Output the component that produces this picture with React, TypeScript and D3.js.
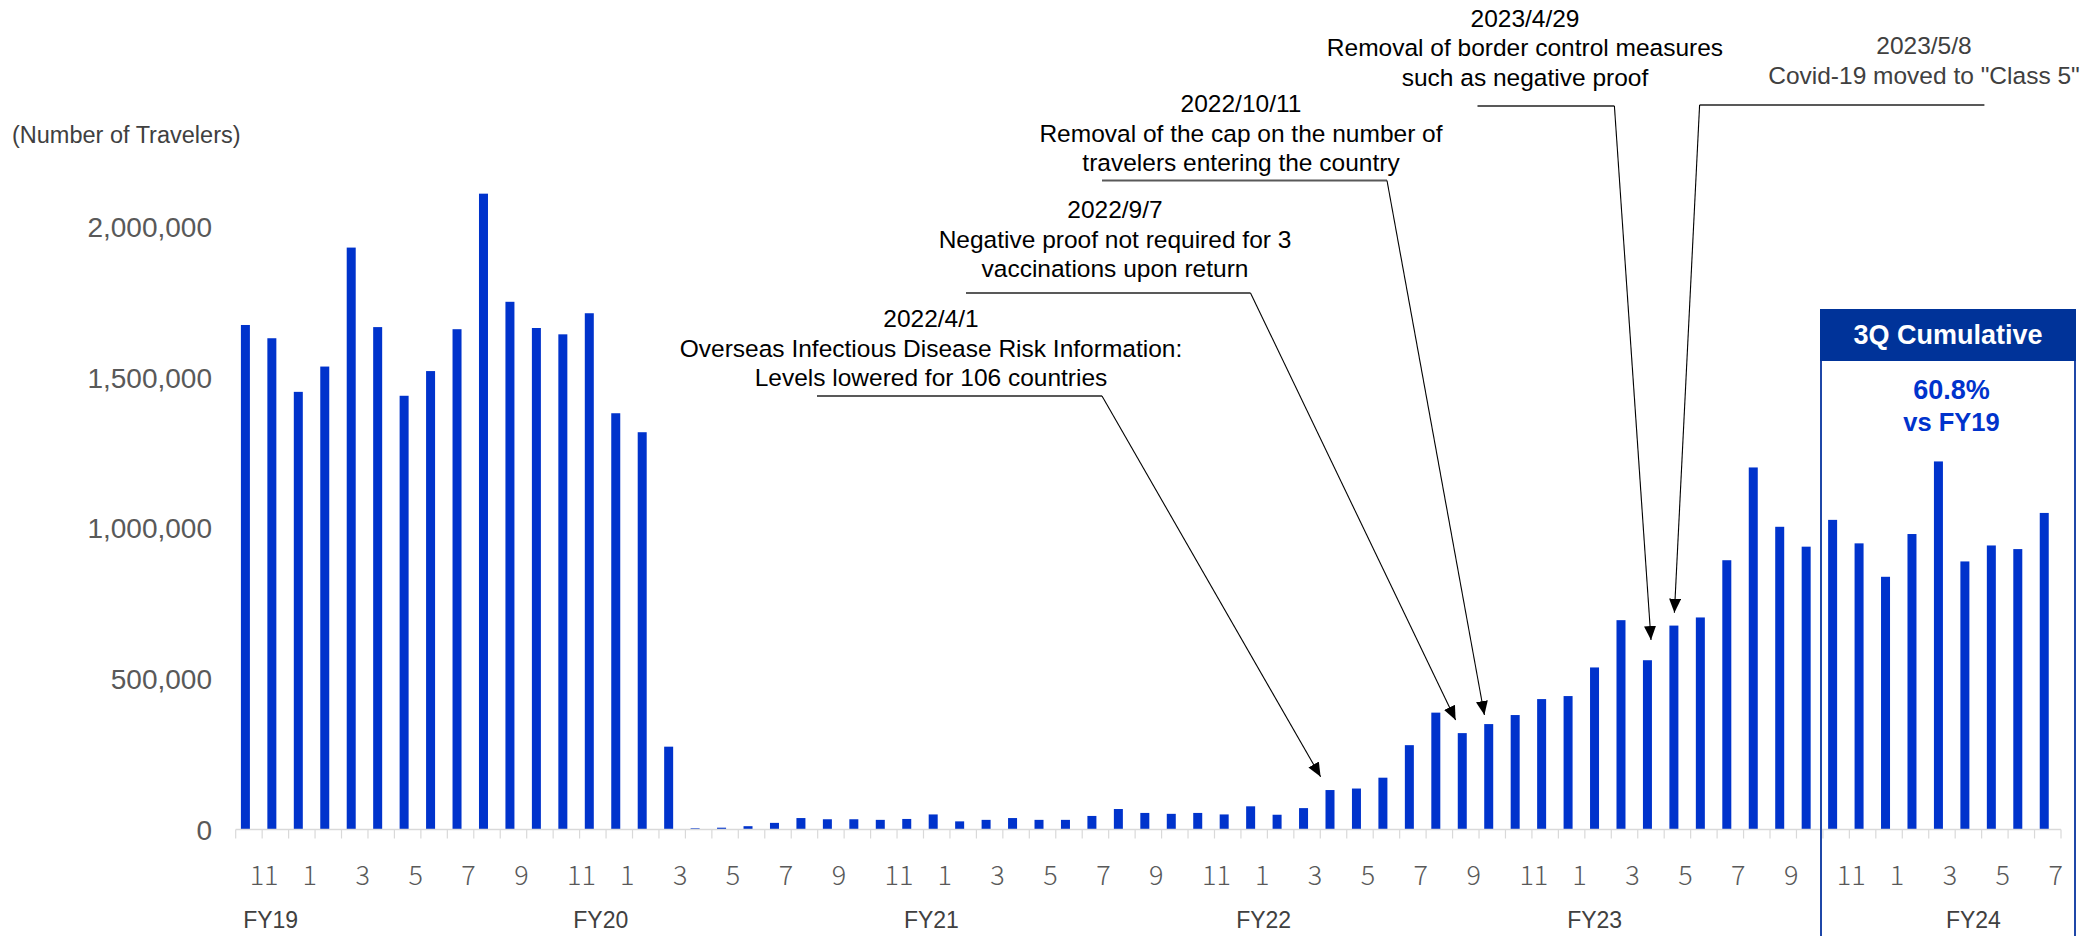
import React from "react";
import * as d3 from "d3";

// Monthly travelers, Nov 2018 – Jul 2024
const monthNums: number[] = [
  11, 12, 1, 2, 3, 4, 5, 6, 7, 8, 9, 10,
  11, 12, 1, 2, 3, 4, 5, 6, 7, 8, 9, 10,
  11, 12, 1, 2, 3, 4, 5, 6, 7, 8, 9, 10,
  11, 12, 1, 2, 3, 4, 5, 6, 7, 8, 9, 10,
  11, 12, 1, 2, 3, 4, 5, 6, 7, 8, 9, 10,
  11, 12, 1, 2, 3, 4, 5, 6, 7,
];

const travelers: number[] = [
  1675000, 1631000, 1453000, 1537000, 1932000, 1668000, 1440000, 1522000, 1661000, 2111000, 1752000, 1665000,
  1644000, 1714000, 1382000, 1319000, 275000, 4000, 6000, 11000, 22000, 38000, 34000, 34000,
  32000, 35000, 50000, 27000, 32000, 38000, 32000, 32000, 45000, 68000, 55000, 52000,
  55000, 50000, 77000, 49000, 71000, 131000, 136000, 172000, 280000, 388000, 320000, 350000,
  380000, 433000, 443000, 538000, 695000, 562000, 677000, 704000, 894000, 1202000, 1005000, 939000,
  1028000, 950000, 839000, 981000, 1222000, 890000, 943000, 931000, 1051000,
];

const yTicks: number[] = [0, 500000, 1000000, 1500000, 2000000];

const fyLabels: string[] = ["FY19", "FY20", "FY21", "FY22", "FY23", "FY24"];
// centre of each FY label, expressed in bar-index units
const fyIndexPos: number[] = [0.82, 13.3, 25.8, 38.36, 50.87, 65.19];

type Note = { lines: string[]; barIndex: number; color: string };
const notes: Note[] = [
  { lines: ["2022/4/1", "Overseas Infectious Disease Risk Information:", "Levels lowered for 106 countries"], barIndex: 41, color: "#000" },
  { lines: ["2022/9/7", "Negative proof not required for 3", "vaccinations upon return"], barIndex: 46, color: "#000" },
  { lines: ["2022/10/11", "Removal of the cap on the number of", "travelers entering the country"], barIndex: 47, color: "#000" },
  { lines: ["2023/4/29", "Removal of border control measures", "such as negative proof"], barIndex: 53, color: "#000" },
  { lines: ["2023/5/8", "Covid-19 moved to \"Class 5\""], barIndex: 54, color: "#404040" },
];

// layout of each note: text centre, first baseline, underline, leader end
const noteLayout = [
  { cx: 931, y0: 327, ul: [817, 1102, 396], tip: [1320.6, 776.7] },
  { cx: 1115, y0: 218, ul: [966, 1250.5, 293], tip: [1455.6, 720] },
  { cx: 1241, y0: 112, ul: [1102, 1387, 180.5], tip: [1484.4, 715] },
  { cx: 1525, y0: 26.5, ul: [1477.5, 1614.4, 106], tip: [1651, 640] },
  { cx: 1924, y0: 54, ul: [1699.6, 1984.4, 105], tip: [1674.4, 612.7] },
];

const W = 2098;
const H = 936;
const SANS = "'Liberation Sans', Arial, Helvetica, sans-serif";

export default function App() {
  const x = d3
    .scaleBand<number>()
    .domain(travelers.map((_, i) => i))
    .range([235.7, 2061])
    .paddingInner(0)
    .paddingOuter(0);
  const bw = x.bandwidth();
  const y = d3.scaleLinear().domain([0, 2500000]).range([829.5, 76.5]);
  const fmt = d3.format(",");
  const barW = 9;
  const barOff = 5.2;

  const boundaries = d3.range(travelers.length + 1).map((k) => 235.7 + k * bw);

  return (
    <svg
      width={W}
      height={H}
      viewBox={`0 0 ${W} ${H}`}
      style={{ position: "absolute", left: 0, top: 0, background: "#fff" }}
    >
      <defs>
        <marker
          id="arrow"
          markerUnits="userSpaceOnUse"
          markerWidth={15}
          markerHeight={13}
          refX={14}
          refY={6}
          orient="auto"
        >
          <path d="M0,0 L14,6 L0,12 Z" fill="#000" />
        </marker>
      </defs>
      <rect x={0} y={0} width={W} height={H} fill="#fff" />

      {/* y-axis title */}
      <text x={12} y={143} fontFamily={SANS} fontSize={23.5} fill="#404040">
        (Number of Travelers)
      </text>

      {/* y ticks */}
      {yTicks.map((t) => (
        <text
          key={t}
          x={212}
          y={y(t)}
          dy="0.36em"
          textAnchor="end"
          fontFamily={SANS}
          fontSize={28}
          fill="#595959"
        >
          {fmt(t)}
        </text>
      ))}

      {/* bars */}
      {travelers.map((v, i) => (
        <rect
          key={i}
          x={(x(i) as number) + barOff}
          y={y(v)}
          width={barW}
          height={y(0) - y(v)}
          fill="#0033CC"
        />
      ))}

      {/* x axis line + ticks */}
      <line x1={235.7} x2={2061} y1={829.5} y2={829.5} stroke="#d9d9d9" strokeWidth={1.5} />
      {boundaries.map((bx, k) => (
        <line key={k} x1={bx} x2={bx} y1={829.5} y2={838.5} stroke="#d9d9d9" strokeWidth={1.2} />
      ))}

      {/* month labels, every second month */}
      {monthNums.map((m, i) =>
        i % 2 === 0 ? (
          <text
            key={i}
            x={(x(i) as number) + bw - 12.5}
            y={885}
            textAnchor="start"
            fontFamily="'Noto Sans CJK JP', 'Noto Sans', sans-serif"
            fontWeight={300}
            fontSize={27}
            fill="#595959"
          >
            {m}
          </text>
        ) : null
      )}

      {/* fiscal year labels */}
      {fyLabels.map((f, j) => (
        <text
          key={f}
          x={235.7 + fyIndexPos[j] * bw + bw / 2}
          y={928}
          textAnchor="middle"
          fontFamily={SANS}
          fontSize={23}
          fill="#404040"
        >
          {f}
        </text>
      ))}

      {/* annotations */}
      {notes.map((n, k) => {
        const L = noteLayout[k];
        return (
          <g key={k}>
            {n.lines.map((ln, li) => (
              <text
                key={li}
                x={L.cx}
                y={L.y0 + li * 29.6}
                textAnchor="middle"
                fontFamily={SANS}
                fontSize={24.5}
                fill={n.color}
              >
                {ln}
              </text>
            ))}
            <line x1={L.ul[0]} x2={L.ul[1]} y1={L.ul[2]} y2={L.ul[2]} stroke="#595959" strokeWidth={2} />
            <line
              x1={k === 4 ? L.ul[0] : L.ul[1]}
              y1={L.ul[2]}
              x2={L.tip[0]}
              y2={L.tip[1]}
              stroke="#000"
              strokeWidth={1.1}
              markerEnd="url(#arrow)"
            />
          </g>
        );
      })}

      {/* 3Q cumulative box */}
      <line x1={1821} x2={1821} y1={361} y2={H} stroke="#1f47a8" strokeWidth={2} />
      <line x1={2075} x2={2075} y1={361} y2={H} stroke="#1f47a8" strokeWidth={2} />
      <rect x={1820} y={309} width={256} height={52} fill="#003399" />
      <text
        x={1948}
        y={344}
        textAnchor="middle"
        fontFamily={SANS}
        fontWeight={700}
        fontSize={27}
        fill="#fff"
      >
        3Q Cumulative
      </text>
      <text x={1951.5} y={399} textAnchor="middle" fontFamily={SANS} fontWeight={700} fontSize={27} fill="#0033CC">
        60.8%
      </text>
      <text x={1951.5} y={430.5} textAnchor="middle" fontFamily={SANS} fontWeight={700} fontSize={25.5} fill="#0033CC">
        vs FY19
      </text>
    </svg>
  );
}
